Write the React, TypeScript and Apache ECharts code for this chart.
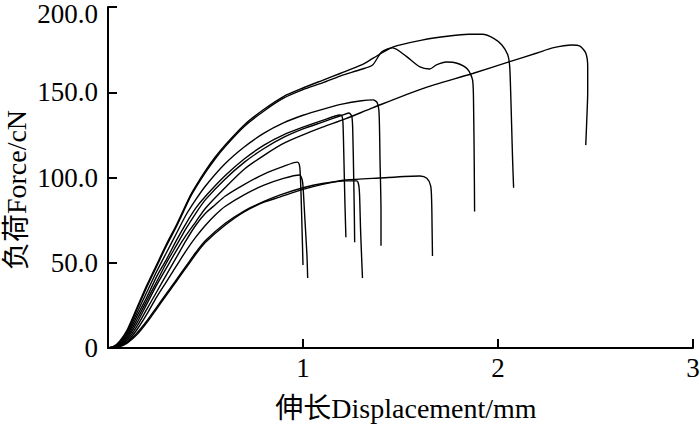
import React, { useEffect, useRef } from "react";
import * as echarts from "echarts";

type Pt = [number, number];

const xTicks = [0, 1, 2, 3];
const yTicks = [0, 50, 100, 150, 200];
const xTitle = "伸长Displacement/mm";
const yTitle = "负荷Force/cN";

const curveJ: Pt[] = [[0,0],[0.03,1],[0.06,4],[0.1,11],[0.15,24],[0.2,37],[0.25,49],[0.3,61],[0.35,72],[0.42,89],[0.45,95],[0.5,104],[0.55,112],[0.6,119],[0.7,131],[0.8,140],[0.9,147.5],[1.0,152.5],[1.1,157],[1.19,161],[1.3,166],[1.36,170],[1.46,176.5],[1.61,180.6],[1.75,183],[1.85,184],[1.92,184],[1.98,181.5],[2.02,177.7],[2.05,172],[2.06,165],[2.065,150],[2.07,130],[2.075,110],[2.08,94]];
const curveI: Pt[] = [[0,0],[0.03,0.9],[0.06,3.6],[0.1,10],[0.15,23],[0.2,36],[0.25,48],[0.3,60],[0.35,71],[0.42,88],[0.45,94],[0.5,103],[0.55,111],[0.6,118],[0.7,130],[0.8,139],[0.9,146.5],[1.0,151.5],[1.1,155.5],[1.19,159.5],[1.3,163.5],[1.357,166],[1.403,173.6],[1.46,176],[1.53,171],[1.597,165],[1.649,163.6],[1.684,166],[1.735,167.7],[1.79,167],[1.843,163.6],[1.87,157],[1.875,140],[1.878,110],[1.88,80]];
const curveG: Pt[] = [[0,0],[0.03,0.8],[0.06,3],[0.1,9],[0.15,21],[0.2,33],[0.25,45],[0.3,56],[0.35,67],[0.4,78],[0.45,87],[0.5,95],[0.6,108],[0.7,118],[0.8,126],[0.9,132],[1.0,136.5],[1.1,140],[1.2,143],[1.3,145],[1.36,145.5],[1.38,144],[1.39,138],[1.395,110],[1.4,80],[1.4,60]];
const curveE: Pt[] = [[0,0],[0.03,0.6],[0.06,2.5],[0.1,8],[0.15,19],[0.2,30],[0.25,42],[0.3,52],[0.35,63],[0.4,73],[0.45,82],[0.5,89],[0.6,101],[0.7,111],[0.8,119],[0.9,125],[1.0,129.5],[1.1,133.5],[1.19,136.7],[1.2,136],[1.205,132],[1.21,110],[1.215,85],[1.22,65]];
const curveF: Pt[] = [[0,0],[0.03,0.5],[0.06,2],[0.1,7],[0.15,17],[0.2,28],[0.25,39],[0.3,50],[0.35,60],[0.4,70],[0.45,79],[0.5,87],[0.6,99],[0.7,109],[0.8,117],[0.9,123.5],[1.0,128.5],[1.1,132.5],[1.2,136.5],[1.235,137.8],[1.25,136],[1.255,128],[1.26,100],[1.263,80],[1.265,62]];
const curveH: Pt[] = [[0,0],[0.03,0.4],[0.06,1.8],[0.1,6],[0.15,15],[0.2,26],[0.25,37],[0.3,47],[0.35,57],[0.4,66],[0.45,74],[0.5,82],[0.6,94],[0.7,105],[0.8,113],[0.9,120],[1.0,125],[1.1,129.5],[1.22,134.5],[1.36,141],[1.61,152],[1.87,161],[2.06,168],[2.2,173],[2.28,176],[2.38,177.7],[2.42,177],[2.45,173],[2.46,165],[2.46,150],[2.455,133],[2.45,119]];
const curveA: Pt[] = [[0,0],[0.03,0.4],[0.06,1.5],[0.1,5],[0.15,13],[0.2,23],[0.25,33],[0.3,43],[0.35,53],[0.4,63],[0.45,72],[0.5,79],[0.55,84],[0.6,89],[0.7,96],[0.8,102],[0.9,106.5],[0.97,109],[0.98,108],[0.985,104],[0.99,90],[0.995,70],[1.0,48.7]];
const curveB: Pt[] = [[0,0],[0.03,0.3],[0.06,1.2],[0.1,4],[0.15,11],[0.2,20],[0.25,30],[0.3,39],[0.35,48],[0.4,57],[0.45,65],[0.5,72],[0.55,78],[0.6,83],[0.7,90],[0.8,95.5],[0.9,99.5],[0.983,101.5],[0.995,99],[1.0,95],[1.01,75],[1.02,55],[1.024,41]];
const curveC: Pt[] = [[0,0],[0.03,0.3],[0.06,1],[0.1,3.5],[0.15,9],[0.2,16],[0.25,24],[0.3,32],[0.35,40],[0.4,48],[0.45,56],[0.5,63],[0.6,73],[0.7,80.5],[0.8,86],[0.88,89.7],[1.0,94],[1.1,96.5],[1.22,98],[1.275,98],[1.285,96],[1.29,90],[1.295,70],[1.3,55],[1.305,41]];
const curveD: Pt[] = [[0,0],[0.03,0.2],[0.06,0.8],[0.1,3],[0.15,8],[0.2,15],[0.25,23],[0.3,31],[0.35,39],[0.4,47],[0.45,55],[0.5,62],[0.6,72],[0.7,80],[0.8,85.5],[0.88,88.5],[1.0,93],[1.1,96],[1.22,98.5],[1.39,99.7],[1.6,100.9],[1.635,99.5],[1.655,95],[1.66,85],[1.662,70],[1.664,54]];

const curves: Pt[][] = [curveJ, curveI, curveG, curveE, curveF, curveH, curveA, curveB, curveC, curveD];

const FONT = "'Liberation Serif', 'Times New Roman', 'Noto Sans CJK SC', serif";

export default function App() {
  const ref = useRef<HTMLDivElement>(null);
  useEffect(() => {
    if (!ref.current) return;
    const chart = echarts.init(ref.current, undefined, { renderer: "svg" });
    const yMax = yTicks[yTicks.length - 1];
    chart.setOption({
      animation: false,
      backgroundColor: "#ffffff",
      grid: { left: 108, right: 7, top: 7, bottom: 76, outerBoundsMode: "none", containLabel: false },
      xAxis: {
        type: "value",
        min: xTicks[0],
        max: xTicks[xTicks.length - 1],
        interval: 1,
        splitLine: { show: false },
        axisLine: { show: true, onZero: false, lineStyle: { color: "#000", width: 2 } },
        axisTick: { show: true, inside: true, length: 9, lineStyle: { color: "#000", width: 2 } },
        axisLabel: {
          color: "#000",
          fontFamily: FONT,
          fontSize: 27,
          margin: 6,
          hideOverlap: false,
          formatter: (v: number) => (v === 0 ? "" : String(v)),
        },
      },
      yAxis: {
        type: "value",
        min: yTicks[0],
        max: yMax,
        interval: 50,
        splitLine: { show: false },
        axisLine: { show: true, lineStyle: { color: "#000", width: 2 } },
        axisTick: { show: true, inside: true, length: 9, lineStyle: { color: "#000", width: 2 } },
        axisLabel: {
          color: "#000",
          fontFamily: FONT,
          fontSize: 27,
          margin: 10,
          formatter: (v: number) => (v === 0 ? "0" : v === yMax ? "" : v.toFixed(1)),
        },
      },
      graphic: [
        {
          type: "text",
          x: 98,
          y: 14,
          style: {
            text: yMax.toFixed(1),
            fill: "#000",
            font: `27px ${FONT}`,
            textAlign: "right",
            textVerticalAlign: "middle",
          },
        },
        {
          type: "text",
          x: 406,
          y: 408,
          style: {
            text: xTitle,
            fill: "#000",
            font: `28px ${FONT}`,
            textAlign: "center",
            textVerticalAlign: "middle",
          },
        },
        {
          type: "text",
          x: 16,
          y: 190,
          rotation: Math.PI / 2,
          style: {
            text: yTitle,
            fill: "#000",
            font: `28px ${FONT}`,
            textAlign: "center",
            textVerticalAlign: "middle",
          },
        },
      ],
      series: curves.map((c) => ({
        type: "line",
        data: c,
        showSymbol: false,
        smooth: 0.25,
        lineStyle: { color: "#000", width: 1.4 },
        silent: true,
      })),
    });
    return () => chart.dispose();
  }, []);
  return (
    <div
      ref={ref}
      style={{ position: "fixed", left: 0, top: 0, width: 700, height: 424, background: "#fff" }}
    />
  );
}
